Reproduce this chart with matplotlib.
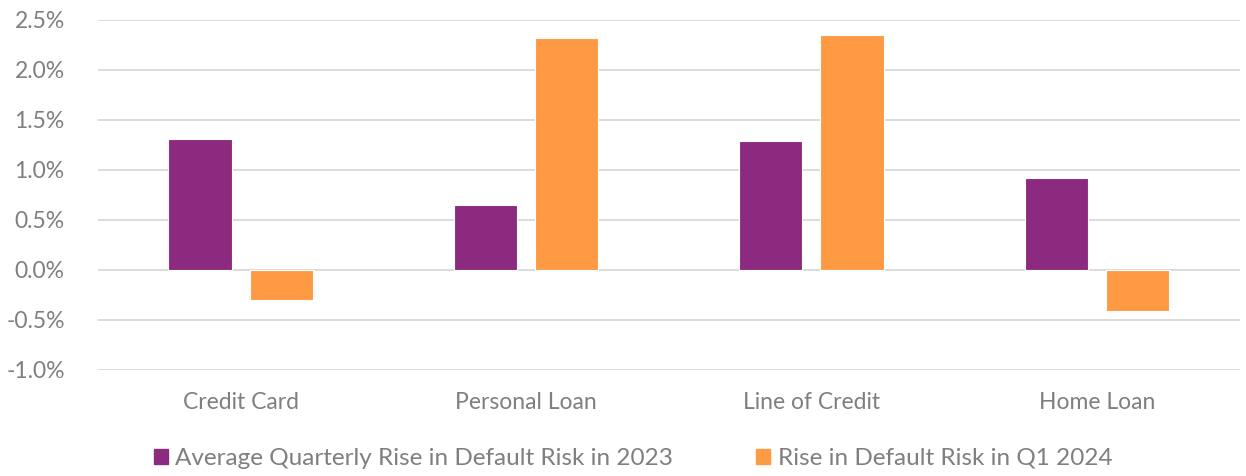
import numpy as np
import matplotlib.pyplot as plt
from matplotlib.patches import Patch

categories = ["Credit Card", "Personal Loan", "Line of Credit", "Home Loan"]
avg_2023 = [1.31, 0.65, 1.29, 0.92]
q1_2024 = [-0.30, 2.32, 2.35, -0.41]
series_names = ["Average Quarterly Rise in Default Risk in 2023", "Rise in Default Risk in Q1 2024"]

purple = "#8B2A7F"
orange = "#FF9A44"
grey = "#7F7F7F"

plt.rcParams['font.family'] = ['Lato', 'DejaVu Sans']

fig = plt.figure(figsize=(12.46, 4.76), dpi=100)
ax = fig.add_axes([0.0787, 0.2227, 0.9163, 0.7353])

x = np.arange(len(categories))
w = 0.222
ax.bar(x - 0.143, avg_2023, w, color=purple, edgecolor="white", linewidth=0.8, zorder=3)
ax.bar(x + 0.142, q1_2024, w, color=orange, edgecolor="white", linewidth=0.8, zorder=3)

ax.set_xlim(-0.5, 3.5)
ax.set_ylim(-1.0, 2.5)
yt = np.arange(-1.0, 2.51, 0.5)
ax.set_yticks(yt)
ax.set_yticklabels([f"{v:.1f}%" for v in yt])
ax.set_xticks(x)
ax.set_xticklabels(categories)
ax.yaxis.grid(True, color="#D9D9D9", linewidth=1.3, zorder=0)
ax.tick_params(axis="both", length=0, labelsize=16.5, colors=grey)
ax.tick_params(axis="x", pad=16)
ax.tick_params(axis="y", pad=24)
for s in ax.spines.values():
    s.set_visible(False)

handles = [Patch(color=purple), Patch(color=orange)]
fig.legend(handles, series_names, loc="center", bbox_to_anchor=(0.508, 0.037), ncol=2,
           frameon=False, fontsize=17.5, labelcolor=grey, handlelength=0.6, handleheight=0.6,
           handletextpad=0.3, columnspacing=3.4)

fig.savefig("out.png", dpi=100)
plt.close()
